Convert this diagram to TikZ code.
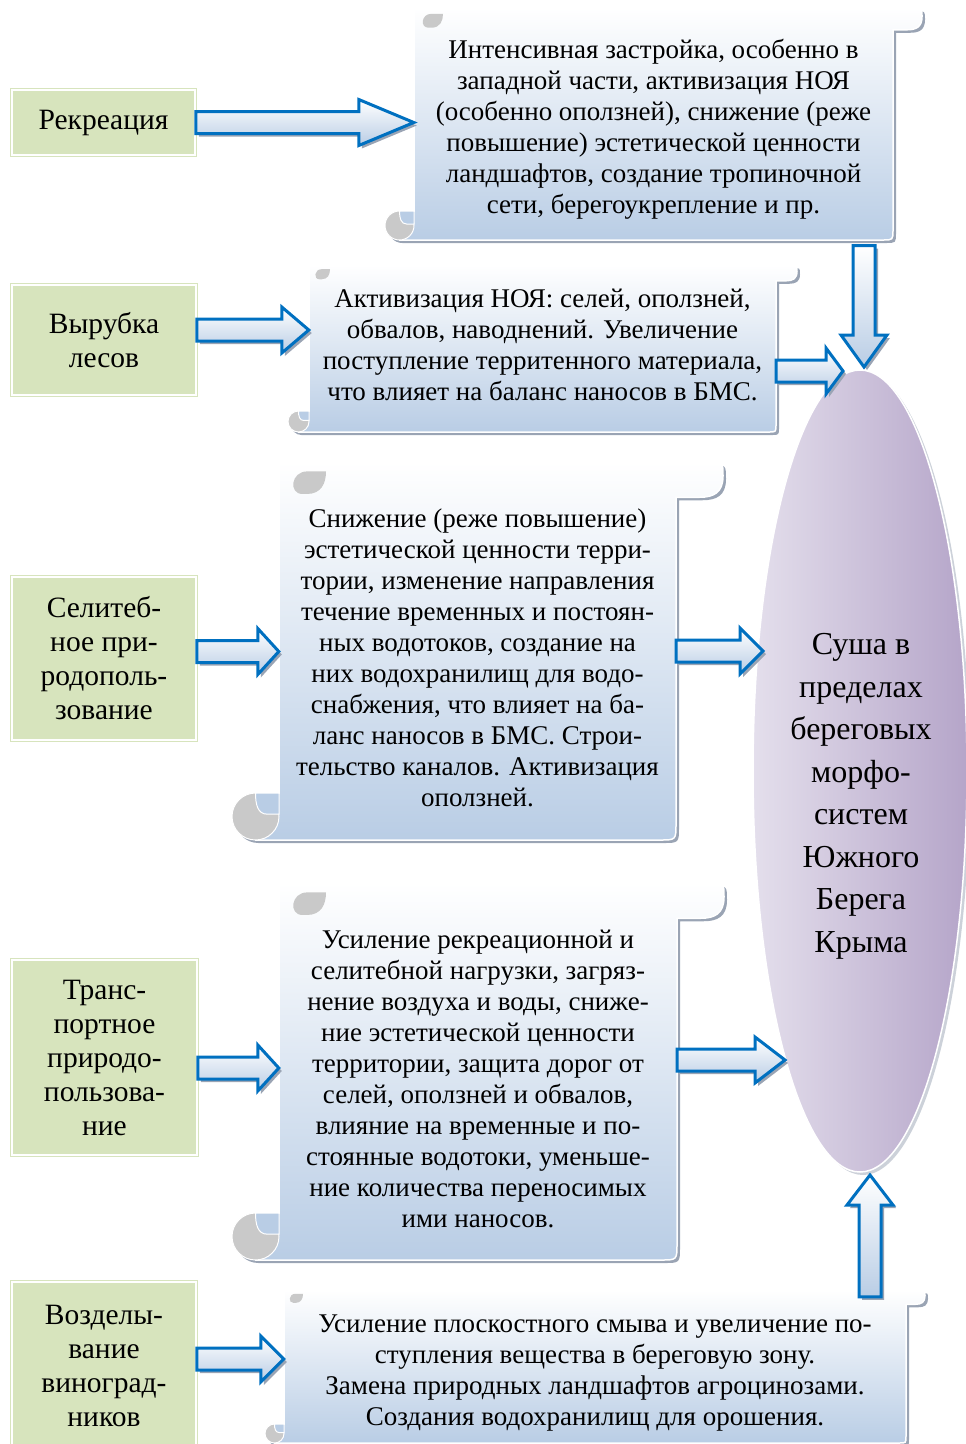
\documentclass[tikz,border=0pt]{standalone}
\usepackage{fontspec}
\setmainfont{Liberation Serif}
\usetikzlibrary{calc,shapes.geometric,shadows}

\definecolor{boxgreen}{HTML}{D7E4BD}
\definecolor{scrollblue}{HTML}{B9CDE5}
\definecolor{arrowblue}{HTML}{0070C0}
\definecolor{shadowgray}{HTML}{9AA4B4}
\definecolor{curlgray}{HTML}{C9C9C9}
\definecolor{suhaleft}{HTML}{E4DFEC}
\definecolor{suharight}{HTML}{B5A5C9}

% outline of a horizontal scroll: l t r b curl
\newcommand\scrolloutline[5]{({#1+#5},{#4-#5}) -- ({#1+#5},#2) -- ({#3-0.3*#5},#2) .. controls (#3,#2) .. (#3,{#2+0.3*#5}) .. controls (#3,{#2+0.65*#5}) and ({#3-0.2*#5},{#2+0.75*#5}) .. ({#3-0.5*#5},{#2+0.75*#5}) -- ({#3-#5},{#2+0.75*#5}) -- ({#3-#5},{#4-0.35*#5}) .. controls ({#3-#5},#4) .. ({#3-1.35*#5},#4) -- ({#1+0.5*#5},#4) -- ({#1+0.5*#5},{#4-#5}) -- cycle}

\newcommand\scrollshape[5]{%
  \begin{scope}[transform canvas={shift={(3pt,-3pt)}}]
    \fill[scrollshadow] \scrolloutline{#1}{#2}{#3}{#4}{#5};
    \fill[scrollshadow] ({#1+0.5*#5},{#4-0.5*#5}) circle ({0.5*#5});
  \end{scope}
  \filldraw[scrollbody] \scrolloutline{#1}{#2}{#3}{#4}{#5};
  \filldraw[curlbase] ({#1+0.5*#5},{#4-0.5*#5}) circle ({0.5*#5});
  \filldraw[curlnotch] ({#1+0.5*#5},{#4-#5}) -- ({#1+#5},{#4-#5}) -- ({#1+#5},{#4-0.55*#5}) -- ({#1+0.75*#5},{#4-0.55*#5}) .. controls ({#1+0.55*#5},{#4-0.55*#5}) and ({#1+0.5*#5},{#4-0.75*#5}) .. ({#1+0.5*#5},{#4-#5}) -- cycle;
  \fill[curlgray] ({#1+2*#5},{#2+0.2*#5}) -- ({#1+1.6*#5},{#2+0.2*#5}) .. controls ({#1+1.25*#5},{#2+0.2*#5}) and ({#1+1.2*#5},{#2+0.68*#5}) .. ({#1+1.5*#5},{#2+0.68*#5}) -- ({#1+1.6*#5},{#2+0.68*#5}) .. controls ({#1+1.9*#5},{#2+0.68*#5}) and ({#1+2*#5},{#2+0.45*#5}) .. ({#1+2*#5},{#2+0.2*#5}) -- cycle;
}

\newcommand\arrowoutline{($(ba-a)!11pt!90:(ba-b)$) -- ($(ba-h)!11pt!90:(ba-b)$) -- ($(ba-h)!23pt!90:(ba-b)$) -- (ba-b) -- ($(ba-h)!23pt!-90:(ba-b)$) -- ($(ba-h)!11pt!-90:(ba-b)$) -- ($(ba-a)!11pt!-90:(ba-b)$) -- cycle}

\newcommand\blockarrow[3]{%
  \path (#1) coordinate (ba-a) (#2) coordinate (ba-b);
  \path ($(ba-b)!#3pt!(ba-a)$) coordinate (ba-h);
  \begin{scope}[transform canvas={shift={(3pt,-3pt)}}]
    \fill[arrowshadow] \arrowoutline;
  \end{scope}
  \filldraw[fatarrow] \arrowoutline;
}

\begin{document}
\begin{tikzpicture}[x=1pt,y=-1pt]
  \tikzset{greenbox/.style = {shape=rectangle,draw=boxgreen,double=white,double distance=1.5pt,line width=1.5pt,fill=boxgreen,align=center,inner sep=0pt,font=\fontsize{29.5}{34}\selectfont}}
  \tikzset{scrolltext/.style = {align=center,inner sep=0pt,font=\fontsize{27}{31}\selectfont}}
  \tikzset{scrollbody/.style = {top color=white,bottom color=scrollblue,draw=white,line width=1.5pt}}
  \tikzset{scrollshadow/.style = {fill=shadowgray}}
  \tikzset{curlbase/.style = {fill=curlgray,draw=white,line width=1pt}}
  \tikzset{curlnotch/.style = {fill=scrollblue,draw=white,line width=1pt}}
  \tikzset{fatarrow/.style = {top color=white,bottom color=scrollblue,draw=arrowblue,line width=3pt,line join=miter}}
  \tikzset{arrowshadow/.style = {fill=shadowgray}}
  \tikzset{suha/.style = {shape=ellipse,minimum width=214pt,minimum height=802pt,left color=suhaleft,right color=suharight,draw=white,line width=1.5pt,drop shadow={shadow xshift=3pt,shadow yshift=-3pt,fill=shadowgray}}}
  \tikzset{suhatext/.style = {align=center,inner sep=0pt,font=\fontsize{32}{42.5}\selectfont}}

  \useasboundingbox (0,0) rectangle (966,1444);

  \scrollshape{385}{8}{922}{240}{29}
  \scrollshape{288}{265}{797}{432}{21}
  \scrollshape{232}{462}{723}{840}{47}
  \scrollshape{232}{883}{724}{1260}{47}
  \scrollshape{265}{1290}{925}{1443}{19}

  \node[suha] (su) at (860,771) {};
  \node[suhatext] (sut) at (861,796.5) {Суша в\\пределах\\береговых\\морфо-\\систем\\Южного\\Берега\\Крыма};

  \node[greenbox,minimum width=183pt,minimum height=65pt] (g1) at (103.5,122.5) {Рекреация};
  \node[greenbox,minimum width=184pt,minimum height=110pt] (g2) at (104,340) {Вырубка\\лесов};
  \node[greenbox,minimum width=184pt,minimum height=163pt] (g3) at (104,658.5) {Селитеб-\\ное при-\\родополь-\\зование};
  \node[greenbox,minimum width=185pt,minimum height=195pt] (g4) at (104.5,1057.5) {Транс-\\портное\\природо-\\пользова-\\ние};
  \node[greenbox,minimum width=184pt,minimum height=168pt] (g5) at (104,1366) {Возделы-\\вание\\виноград-\\ников};

  \node[scrolltext,minimum width=479pt,minimum height=232pt] (s1) at (653.5,129.5) {Интенсивная застройка, особенно в\\западной части, активизация НОЯ\\(особенно оползней), снижение (реже\\повышение) эстетической ценности\\ландшафтов, создание тропиночной\\сети, берегоукрепление и пр.};
  \node[scrolltext,minimum width=467pt,minimum height=167pt] (s2) at (542.5,344.5) {Активизация НОЯ: селей, оползней,\\обвалов, наводнений. Увеличение\\поступление территенного материала,\\что влияет на баланс наносов в БМС.};
  \node[scrolltext,minimum width=397pt,minimum height=378pt] (s3) at (477.5,658) {Снижение (реже повышение)\\эстетической ценности терри-\\тории, изменение направления\\течение временных и постоян-\\ных водотоков, создание на\\них водохранилищ для водо-\\снабжения, что влияет на ба-\\ланс наносов в БМС. Строи-\\тельство каналов. Активизация\\оползней.};
  \node[scrolltext,minimum width=398pt,minimum height=377pt] (s4) at (478,1078.5) {Усиление рекреационной и\\селитебной нагрузки, загряз-\\нение воздуха и воды, сниже-\\ние эстетической ценности\\территории, защита дорог от\\селей, оползней и обвалов,\\влияние на временные и по-\\стоянные водотоки, уменьше-\\ние количества переносимых\\ими наносов.};
  \node[scrolltext,minimum width=622pt,minimum height=153pt] (s5) at (595,1373.5) {Усиление плоскостного смыва и увеличение по-\\ступления вещества в береговую зону.\\Замена природных ландшафтов агроцинозами.\\Создания водохранилищ для орошения.};

  % arrow ends
  \coordinate (t1) at (g1.east);
  \coordinate (t2) at ([yshift=10pt]g2.east);
  \coordinate (t3) at ([yshift=7pt]g3.east);
  \coordinate (t4) at ([yshift=-10.5pt]g4.east);
  \coordinate (t5) at ([yshift=7pt]g5.east);
  \coordinate (e1) at (864,367);
  \coordinate (e2) at (843,371);
  \coordinate (e3) at (763,651);
  \coordinate (e4) at (785,1060);
  \coordinate (e5) at (870,1175);

  \foreach \tail/\head/\hl in {t1/t1 -| s1.west/55, t2/t2 -| s2.west/27, t3/t3 -| s3.west/21, t4/t4 -| s4.west/21, t5/t5 -| s5.west/23, e2 -| s2.east/e2/17, e3 -| s3.east/e3/23, e4 -| s4.east/e4/30, e1 |- s1.south/e1/32, e5 |- s5.north/e5/30}
    \blockarrow{\tail}{\head}{\hl};

\end{tikzpicture}
\end{document}
